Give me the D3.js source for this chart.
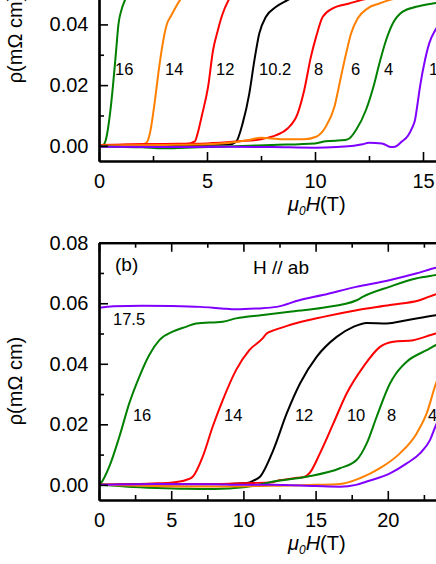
<!DOCTYPE html>
<html lang="en">
<head>
    <meta charset="UTF-8">
    <title>Resistivity vs field</title>
    <script src="https://d3js.org/d3.v7.min.js"></script>
    <style>
        body { margin: 0; background: #fff; }
        svg { display: block; font-family: "Liberation Sans", Arial, sans-serif; }
        .tick text { font-size: 20px; fill: #000; }
    </style>
</head>
<body>

<script>
// ---- panel (a): curves at each temperature (K), [field T, rho mOhm cm]
const tempsA = ["16", "14", "12", "10.2", "8", "6", "4", "1.8"];
const colorsA = ["#008000", "#ff8000", "#ff0000", "#000000", "#ff0000", "#ff8000", "#008000", "#8000ff"];
const a16 = [[0,0],[0.2,0.0003],[0.35,0.003],[0.5,0.01],[0.65,0.02],[0.8,0.032],[0.9,0.04],[1.05,0.045],[1.2,0.048],[1.4,0.052],[1.8,0.056]];
const a14 = [[0,0.0002],[1,0.0003],[2,0.0005],[2.2,0.001],[2.36,0.0042],[2.59,0.015],[2.75,0.024],[2.9,0.0315],[3.13,0.0398],[3.35,0.043],[3.75,0.048],[4.1,0.051]];
const a12 = [[0,0.0002],[2,0.0004],[4,0.0006],[4.44,0.0015],[4.6,0.005],[4.75,0.0096],[5.05,0.0194],[5.28,0.0315],[5.5,0.038],[5.7,0.043],[6.0,0.048],[6.3,0.051]];
const a102 = [[0,0.0001],[3,0.0002],[6,0.0004],[6.34,0.0013],[6.65,0.0074],[6.96,0.0173],[7.19,0.028],[7.42,0.037],[7.73,0.0425],[8.2,0.0458],[8.73,0.048],[9.3,0.05]];
const a8 = [[0,0.0003],[3,0.0006],[5,0.0008],[6.5,0.0015],[7.5,0.0022],[8.2,0.0035],[8.73,0.0057],[9.2,0.0107],[9.5,0.0183],[9.81,0.0293],[10.05,0.0359],[10.36,0.0425],[10.82,0.0453],[11.59,0.0469],[12.13,0.048],[12.8,0.049]];
const a6 = [[0,0.0001],[3,0.0003],[5,0.0005],[7,0.002],[7.5,0.0027],[8.5,0.0022],[9.5,0.0022],[10.05,0.003],[10.5,0.0063],[10.9,0.0129],[11.2,0.0227],[11.44,0.0304],[11.67,0.037],[11.98,0.042],[12.44,0.0453],[12.98,0.0469],[13.44,0.048],[14,0.049]];
const a4 = [[0,-0.0002],[2,-0.0005],[3,-0.0008],[4,-0.0006],[6,-0.0002],[8,0.0003],[10,0.0008],[10.5,0.0015],[11.4,0.0019],[11.59,0.0024],[11.9,0.0052],[12.36,0.0118],[12.75,0.0206],[12.98,0.0271],[13.29,0.0348],[13.6,0.0403],[14.06,0.0442],[14.68,0.0458],[15.45,0.0469],[16,0.0475]];
const a18 = [[0,-0.0003],[3,-0.0004],[6,-0.0003],[8,-0.0004],[10,-0.0006],[11,-0.0004],[11.8,0],[12.2,0.0005],[12.5,0.001],[13.1,0.0008],[13.5,-0.0004],[13.7,-0.0003],[14.0,0.0013],[14.32,0.0035],[14.5,0.006],[14.63,0.0085],[14.75,0.014],[14.86,0.0194],[15.09,0.0282],[15.3,0.034],[15.56,0.038],[16,0.042]];
const seriesA = [a16, a14, a12, a102, a8, a6, a4, a18];
// label anchors (field, rho) for each curve in panel (a)
const labelHA = [0.74, 3.06, 5.42, 7.41, 9.95, 11.67, 13.19, 15.28];
const labelRA = [0.0233, 0.0233, 0.0233, 0.0233, 0.0233, 0.0233, 0.0233, 0.0233];

// ---- panel (b): H // ab
const tempsB = ["17.5", "16", "14", "12", "10", "8", "4", "1.8"];
const colorsB = ["#8000ff", "#008000", "#ff0000", "#000000", "#ff0000", "#008000", "#ff8000", "#8000ff"];
const b175 = [[0,0.0585],[1,0.059],[3,0.0592],[5,0.0591],[7,0.0588],[8.5,0.0583],[9.5,0.058],[11,0.0583],[12.3,0.0588],[13.87,0.061],[15.49,0.0627],[17.8,0.0654],[20.1,0.0676],[21.95,0.0698],[23.34,0.0717],[25,0.073]];
const b16 = [[0,0],[0.14,0.0006],[0.71,0.006],[1.41,0.0159],[2.1,0.027],[2.79,0.0357],[3.48,0.0429],[4.18,0.0478],[5.1,0.0506],[6.02,0.0522],[6.72,0.0533],[8.57,0.0539],[9.49,0.055],[11.33,0.0561],[13.2,0.0572],[15.49,0.0585],[17.84,0.061],[18.26,0.0621],[20.1,0.0654],[21.95,0.0682],[23.34,0.0693],[25,0.0705]];
const b14 = [[0,0],[2,0.0002],[4,0.0005],[5.1,0.0008],[6.02,0.0016],[6.49,0.0027],[7.18,0.0093],[7.87,0.0192],[8.57,0.028],[9.49,0.0379],[10.41,0.0445],[11.33,0.0484],[11.61,0.05],[12.14,0.0511],[13.2,0.0528],[15.53,0.0555],[17.84,0.0577],[20.15,0.0594],[22.2,0.061],[23.34,0.063],[25,0.0645]];
const b12 = [[0,0],[3,0.0001],[6,0.0002],[9,0.0003],[10.23,0.0006],[10.7,0.0014],[11.15,0.0027],[12.07,0.0115],[13.0,0.0236],[13.92,0.0335],[15.07,0.0423],[16.46,0.0489],[17.61,0.0522],[18.54,0.0535],[19.92,0.0533],[21.31,0.0544],[23.34,0.056],[25,0.057]];
const b10 = [[0,0],[5,0.0002],[9,0.0004],[10.5,0.0006],[12,0.0009],[12.5,0.0015],[13.5,0.0022],[14.2,0.0026],[14.6,0.004],[15.3,0.0104],[16.23,0.0203],[17.15,0.0302],[18.3,0.039],[19.46,0.0456],[20.38,0.0473],[21.77,0.0478],[23.34,0.05],[25,0.051]];
const b8 = [[0,0],[2,-0.0006],[4,-0.001],[6,-0.0013],[8,-0.0014],[10,-0.0008],[11,0],[12.07,0.0011],[14.38,0.0027],[16.69,0.0055],[17.84,0.0082],[18.54,0.0137],[19.23,0.0225],[20.15,0.0335],[20.57,0.0368],[21.31,0.0407],[22.69,0.0445],[23.34,0.0462],[25,0.048]];
const b4 = [[0,0],[3,-0.0003],[6,-0.0005],[9,-0.0005],[12,-0.0003],[15,0],[16.69,0.0003],[18.07,0.0022],[19.46,0.0055],[20.84,0.0104],[22.0,0.017],[22.69,0.0236],[23.34,0.0335],[25,0.045]];
const b18 = [[0,0],[4,0.0003],[8,0.0002],[9.76,0],[12,0],[15,-0.0004],[16.69,-0.0006],[17.8,0],[18.54,0.0011],[20.15,0.0038],[21.31,0.0071],[22.23,0.0104],[22.92,0.0148],[23.34,0.0198],[25,0.032]];
const seriesB = [b175, b16, b14, b12, b10, b8, b4, b18];
const labelHB = [0.97, 2.35, 8.66, 13.57, 17.17, 19.94, 22.78, 24.2];
const labelRB = [0.0527, 0.0211, 0.0211, 0.0211, 0.0211, 0.0211, 0.0211, 0.0211];

// tick values
const majorA_x = [0, 5, 10, 15], minorA_x = [2.5, 7.5, 12.5];
const majorA_y = [0, 0.02, 0.04, 0.06], minorA_y = [0.01, 0.03, 0.05];
const majorB_x = [0, 5, 10, 15, 20, 25], minorB_x = [2.5, 7.5, 12.5, 17.5, 22.5];
const majorB_y = [0, 0.02, 0.04, 0.06, 0.08], minorB_y = [0.01, 0.03, 0.05, 0.07];

const width = 436, height = 564;
const svg = d3.select("body").append("svg")
    .attr("width", width)
    .attr("height", height);

function panel(id, x, y, series, colors, temps, labH, labR, xt, xtMinor, yt, ytMinor, topAxis) {
    const [x0, x1] = x.range();
    const [yb, yt0] = y.range();
    svg.append("clipPath").attr("id", id)
        .append("rect")
        .attr("x", x0).attr("y", yt0)
        .attr("width", x1 - x0).attr("height", yb - yt0);

    const line = d3.line()
        .x(d => x(d[0]))
        .y(d => y(d[1]))
        .curve(d3.curveMonotoneX);

    svg.append("g")
        .attr("clip-path", `url(#${id})`)
        .selectAll("path")
        .data(series)
        .join("path")
        .attr("fill", "none")
        .attr("stroke", (d, i) => colors[i])
        .attr("stroke-width", 2)
        .attr("d", line);

    svg.append("g")
        .selectAll("text")
        .data(temps)
        .join("text")
        .attr("x", (d, i) => x(labH[i]))
        .attr("y", (d, i) => y(labR[i]))
        .attr("font-size", 16.5)
        .text(d => d);

    // bottom axis, ticks inside
    const gx = svg.append("g").attr("transform", `translate(0,${yb})`);
    gx.call(d3.axisBottom(x).tickValues(xt).tickSize(-9).tickSizeOuter(0).tickPadding(13).tickFormat(d3.format("d")));
    gx.append("g").call(d3.axisBottom(x).tickValues(xtMinor).tickSize(-5).tickSizeOuter(0).tickFormat(""));

    // left axis, ticks inside
    const gy = svg.append("g").attr("transform", `translate(${x0},0)`);
    gy.call(d3.axisLeft(y).tickValues(yt).tickSize(-9).tickSizeOuter(0).tickPadding(10.5).tickFormat(d3.format(".2f")));
    gy.append("g").call(d3.axisLeft(y).tickValues(ytMinor).tickSize(-5).tickSizeOuter(0).tickFormat(""));

    if (topAxis) {
        const gt = svg.append("g").attr("transform", `translate(0,${yt0})`);
        gt.call(d3.axisTop(x).tickValues(xt).tickSize(-9).tickSizeOuter(0).tickFormat(""));
        gt.append("g").call(d3.axisTop(x).tickValues(xtMinor).tickSize(-5).tickSizeOuter(0).tickFormat(""));
    }

    svg.selectAll(".domain").attr("stroke-width", 2.2);
    svg.selectAll(".tick line").attr("stroke-width", 1.6);
    svg.selectAll(".tick text").attr("font-family", null);

    // axis titles
    const tx = svg.append("text")
        .attr("x", 288)
        .attr("y", yb + 50)
        .attr("font-size", 20);
    tx.append("tspan").attr("font-style", "italic").text("μ");
    tx.append("tspan").attr("font-style", "italic").attr("font-size", 12).attr("dy", 4).text("0");
    tx.append("tspan").attr("font-style", "italic").attr("dy", -4).text("H");
    tx.append("tspan").text("(T)");
}

const xA = d3.scaleLinear().domain([0, 17]).range([99, 466.2]);
const yA = d3.scaleLinear().domain([-0.005, 0.06]).range([161, -36.3]);
panel("clipA", xA, yA, seriesA, colorsA, tempsA, labelHA, labelRA, majorA_x, minorA_x, majorA_y, minorA_y, false);

const xB = d3.scaleLinear().domain([0, 25]).range([99, 460]);
const yB = d3.scaleLinear().domain([-0.005, 0.08]).range([500, 242.7]);
panel("clipB", xB, yB, seriesB, colorsB, tempsB, labelHB, labelRB, majorB_x, minorB_x, majorB_y, minorB_y, true);

// y titles
[[22, 39], [22, 381]].forEach(([px, py]) => {
    svg.append("text")
        .attr("transform", `translate(${px},${py}) rotate(-90)`)
        .attr("text-anchor", "middle")
        .attr("font-size", 20)
        .text("ρ(mΩ cm)");
});

svg.append("text").attr("x", 115).attr("y", 271).attr("font-size", 19).text("(b)");
svg.append("text").attr("x", 253).attr("y", 274).attr("font-size", 19).text("H // ab");
</script>

</body>
</html>
